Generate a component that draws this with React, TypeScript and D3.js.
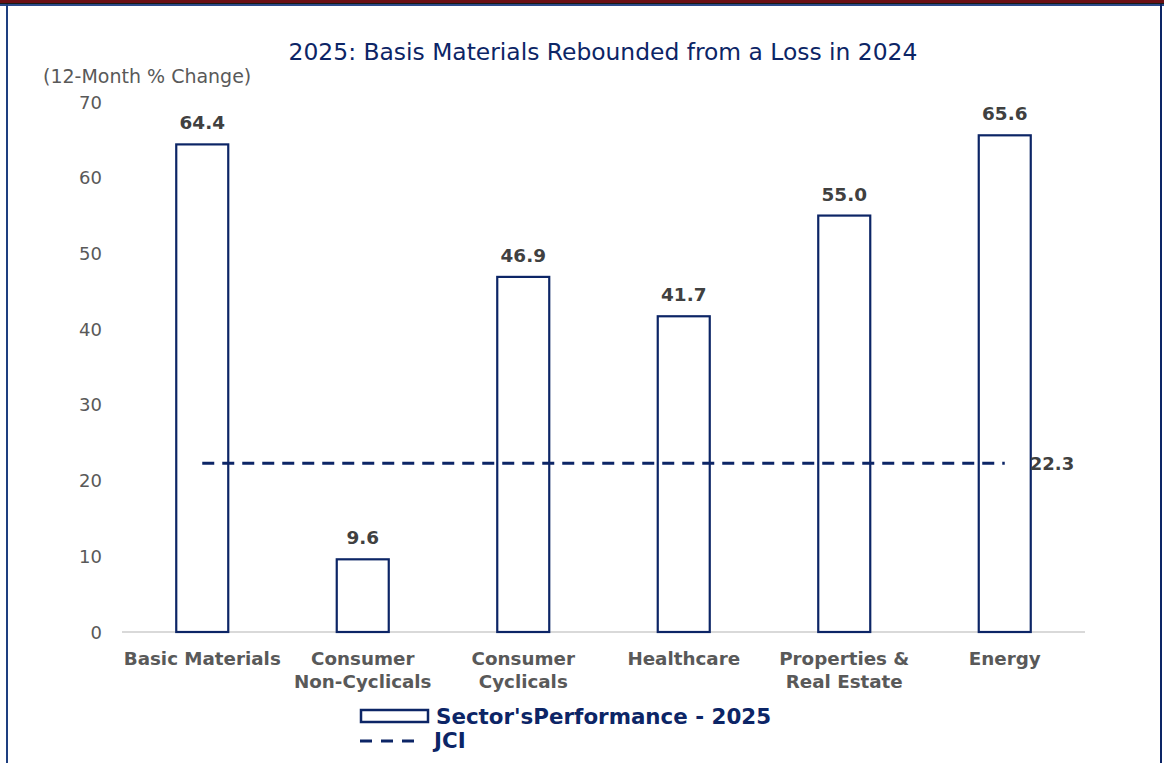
import React from "react";
import * as d3 from "d3";

const categories = [
  ["Basic Materials"],
  ["Consumer", "Non-Cyclicals"],
  ["Consumer", "Cyclicals"],
  ["Healthcare"],
  ["Properties &", "Real Estate"],
  ["Energy"],
];
const sectorValues = [64.4, 9.6, 46.9, 41.7, 55.0, 65.6];
const jciValue = 22.3;
const yTicks = [0, 10, 20, 30, 40, 50, 60, 70];
const title = "2025: Basis Materials Rebounded from a Loss in 2024";
const yLabel = "(12-Month % Change)";
const legendBar = "Sector'sPerformance - 2025";
const legendLine = "JCI";

const W = 1164;
const H = 763;
const NAVY = "#0c2566";
const FONT = "Verdana, 'DejaVu Sans', sans-serif";

export default function App() {
  const left = 122, right = 1085, top = 102, bottom = 632;
  const x = d3.scaleBand<number>().domain(d3.range(categories.length)).range([left, right]).paddingInner(0.676).paddingOuter(0.338);
  const y = d3.scaleLinear().domain([0, 70]).range([bottom, top]);
  const bw = x.bandwidth();
  const cx = (i: number) => (x(i) as number) + bw / 2;
  const jy = y(jciValue);
  return (
    <svg width={W} height={H} style={{ position: "absolute", left: 0, top: 0, fontFamily: FONT }}>
      <rect x={0} y={0} width={W} height={H} fill="#fff" />
      <rect x={0} y={0} width={W} height={3} fill="#6b0f14" />
      <rect x={0} y={3} width={W} height={1} fill="#1a1a1a" />
      <rect x={0} y={4} width={W} height={2} fill="#2c4a8a" />
      <rect x={6} y={4} width={2} height={H} fill="#1e3f80" />
      <rect x={1160} y={4} width={2} height={H} fill="#0c2566" />

      <text x={603} y={60} textAnchor="middle" fontSize={23.4} fill={NAVY}>{title}</text>
      <text x={43} y={83} fontSize={19} fill="#595959">{yLabel}</text>

      {yTicks.map((t) => (
        <text key={t} x={102} y={y(t) + 6.5} textAnchor="end" fontSize={18} fill="#595959">{t}</text>
      ))}

      <line x1={left} x2={right} y1={bottom} y2={bottom} stroke="#d9d9d9" strokeWidth={2} />

      {sectorValues.map((v, i) => (
        <g key={i}>
          <rect x={x(i)} y={y(v)} width={bw} height={bottom - y(v)} fill="#fff" stroke={NAVY} strokeWidth={2.2} />
          <text x={cx(i)} y={y(v) - 15} textAnchor="middle" fontSize={18.4} fontWeight="bold" fill="#404040">{v.toFixed(1)}</text>
        </g>
      ))}

      <line x1={cx(0)} x2={cx(categories.length - 1)} y1={jy} y2={jy} stroke={NAVY} strokeWidth={3} strokeDasharray="12 8" />
      <text x={cx(categories.length - 1) + 25} y={jy + 7} fontSize={18} fontWeight="bold" fill="#404040">{jciValue.toFixed(1)}</text>

      {categories.map((lines, i) => (
        <text key={i} textAnchor="middle" fontSize={18.3} fontWeight="bold" fill="#595959">
          {lines.map((l, j) => (
            <tspan key={j} x={cx(i)} y={665 + j * 23}>{l}</tspan>
          ))}
        </text>
      ))}

      <rect x={361} y={710} width={67} height={12} fill="#fff" stroke={NAVY} strokeWidth={2.5} />
      <text x={436} y={724} fontSize={21.4} fontWeight="bold" fill={NAVY}>{legendBar}</text>
      <line x1={360} x2={418} y1={741} y2={741} stroke={NAVY} strokeWidth={3} strokeDasharray="12 9" />
      <text x={434} y={748} fontSize={21.4} fontWeight="bold" fill={NAVY}>{legendLine}</text>
    </svg>
  );
}
